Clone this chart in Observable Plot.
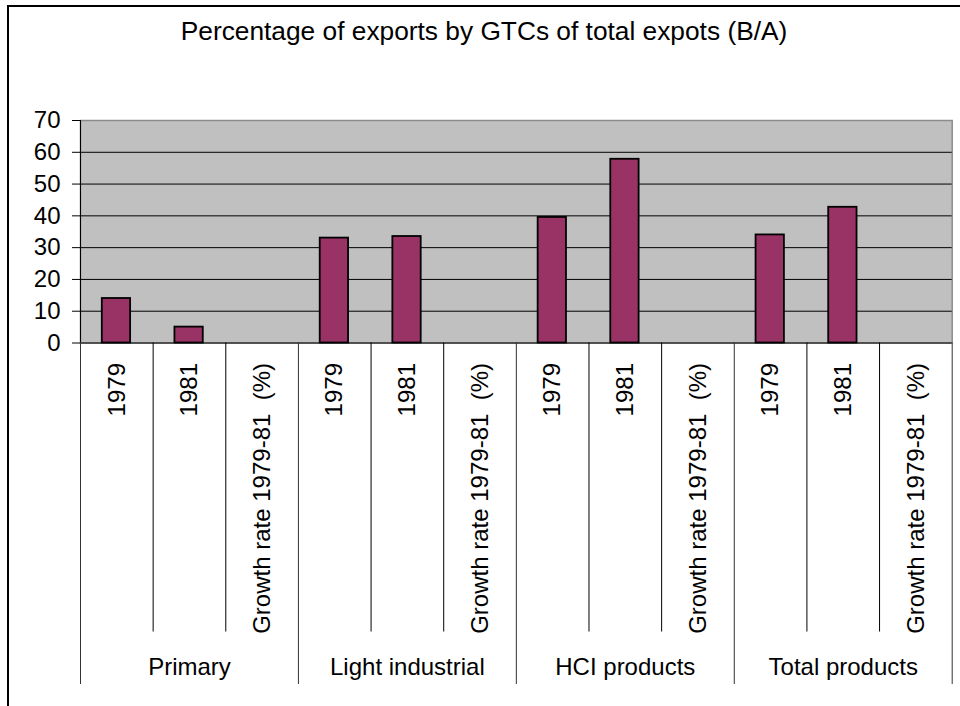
<!DOCTYPE html>
<html>
<head>
<meta charset="utf-8">
<script src="https://cdn.jsdelivr.net/npm/d3@7"></script>
<script src="https://cdn.jsdelivr.net/npm/@observablehq/plot@0.6"></script>
<style>
  html, body { margin: 0; padding: 0; background: #fff; }
  #wrap { position: relative; width: 960px; height: 706px; overflow: hidden; font-family: "Liberation Sans", Arial, sans-serif; }
  #border { position: absolute; left: 7px; top: 5px; width: 1000px; height: 800px; border: 2px solid #000; box-sizing: border-box; }
  #title { position: absolute; left: 0; top: 18px; width: 968px; text-align: center; font-size: 26.3px; line-height: 26px; color: #000; }
  #chart { position: absolute; left: 0; top: 0; }
</style>
</head>
<body>
<div id="wrap">
  <div id="border"></div>
  <div id="title">Percentage of exports by GTCs of total expots (B/A)</div>
  <div id="chart"></div>
</div>
<script>
// Data
const groups = ["Primary", "Light industrial", "HCI products", "Total products"];
const periods = ["1979", "1981", "Growth rate 1979-81  (%)"];
const primary = [14, 5, null];
const lightIndustrial = [33, 33.5, null];
const hciProducts = [39.5, 57.8, null];
const totalProducts = [34, 42.7, null];
const yTicks = [0, 10, 20, 30, 40, 50, 60, 70];

const series = [primary, lightIndustrial, hciProducts, totalProducts];
const rows = [];
series.forEach((vals, gi) => {
  vals.forEach((v, j) => {
    rows.push({group: groups[gi], period: periods[j], slot: gi * periods.length + j, value: v});
  });
});
const nSlots = groups.length * periods.length;
const slotCenters = rows.map(r => r.slot + 0.5);
const innerBounds = d3.range(0, nSlots + 1).filter(i => i % periods.length !== 0);
const groupBounds = d3.range(0, nSlots + 1, periods.length);
const groupCenters = groups.map((g, i) => i * periods.length + periods.length / 2);

const chart = Plot.plot({
  width: 960,
  height: 706,
  marginLeft: 80,
  marginRight: 8.3,
  marginTop: 120,
  marginBottom: 363.5,
  style: {background: "transparent", color: "#000", fontFamily: "'Liberation Sans', Arial, sans-serif", fontSize: "24px", overflow: "visible"},
  x: {type: "linear", domain: [0, nSlots], label: null},
  y: {domain: [0, 70], label: null},
  marks: [
    Plot.frame({fill: "#C0C0C0", stroke: "#8c8c8c", strokeWidth: 1.5}),
    Plot.ruleY(yTicks.filter(t => t > 0 && t < 70), {stroke: "#000", strokeWidth: 1}),
    Plot.rectY(rows.filter(r => r.value != null), {
      x1: r => r.slot + 0.30,
      x2: r => r.slot + 0.69,
      y: "value",
      fill: "#993366",
      stroke: "#000",
      strokeWidth: 1.8
    }),
    Plot.ruleX([0], {stroke: "#000", strokeWidth: 1}),
    Plot.ruleY([0], {stroke: "#000", strokeWidth: 1}),
    Plot.axisY({ticks: yTicks, tickSize: 8, tickPadding: 12, fontSize: 24, stroke: "#000", label: null}),
    Plot.axisX({ticks: innerBounds, tickSize: 289, tickFormat: () => "", stroke: "#000", label: null}),
    Plot.axisX({ticks: groupBounds, tickSize: 341.5, tickFormat: () => "", stroke: "#333", label: null}),
    Plot.axisX({
      ticks: slotCenters,
      tickSize: 0,
      tickPadding: 20,
      tickRotate: -90,
      fontSize: 24,
      label: null,
      tickFormat: x => periods[Math.round(x - 0.5) % periods.length]
    }),
    Plot.axisX({
      ticks: groupCenters,
      tickSize: 0,
      tickPadding: 314.5,
      fontSize: 24,
      label: null,
      tickFormat: x => groups[Math.floor(x / periods.length)]
    })
  ]
});
document.getElementById("chart").appendChild(chart);
</script>
</body>
</html>
